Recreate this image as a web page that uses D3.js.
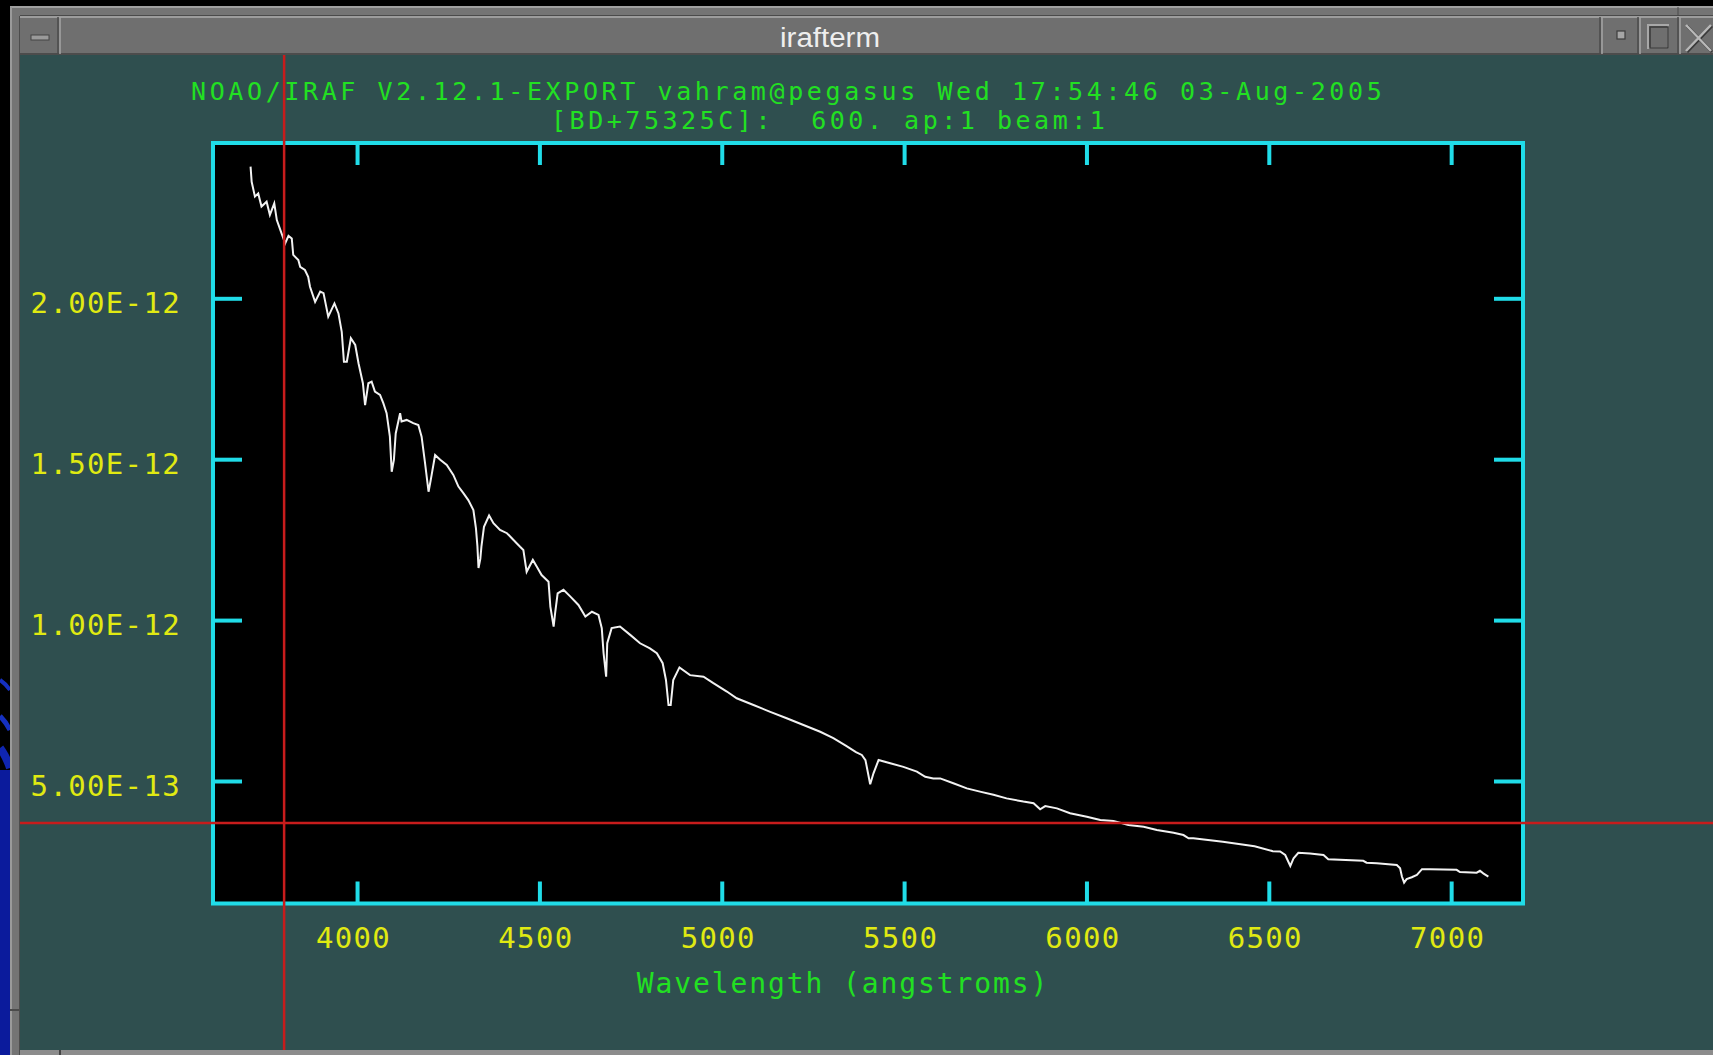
<!DOCTYPE html>
<html>
<head>
<meta charset="utf-8">
<script src="https://cdn.jsdelivr.net/npm/d3@7"></script>
<style>
  html, body { margin: 0; padding: 0; background: #000; overflow: hidden; }
  text { white-space: pre; }
</style>
</head>
<body>
<svg id="screen" width="1713" height="1055"></svg>
<script>
// Extracted spectrum of BD+75 325, aperture 1 (flux in units of 1E-12)
const wavelength = [
  3708, 3711, 3720, 3729, 3738, 3752, 3761, 3773, 3780, 3793, 3803, 3812, 3821, 3825,
  3839, 3844, 3857, 3866, 3871, 3885, 3899, 3908, 3921, 3938, 3949, 3958, 3964, 3972,
  3983, 3995, 4004, 4016, 4022, 4031, 4040, 4049, 4063, 4072, 4081, 4090, 4095, 4101,
  4106, 4118, 4122, 4136, 4154, 4168, 4177, 4186, 4196, 4202, 4214, 4228, 4246, 4264,
  4278, 4292, 4305, 4319, 4326, 4330, 4333, 4338, 4341, 4348, 4362, 4374, 4392, 4411,
  4429, 4447, 4456, 4465, 4482, 4493, 4506, 4525, 4530, 4539, 4543, 4550, 4566, 4585,
  4607, 4626, 4644, 4662, 4671, 4676, 4683, 4686, 4698, 4721, 4749, 4776, 4803, 4822,
  4838, 4847, 4854, 4860, 4867, 4884, 4913, 4950, 4977, 5014, 5041, 5087, 5133, 5178,
  5224, 5270, 5306, 5340, 5368, 5384, 5394, 5407, 5416, 5430, 5462, 5498, 5535, 5558,
  5580, 5599, 5635, 5672, 5708, 5745, 5781, 5827, 5855, 5873, 5887, 5919, 5955, 6001,
  6038, 6074, 6115, 6157, 6193, 6239, 6266, 6280, 6293, 6374, 6461, 6511, 6531, 6545,
  6559, 6568, 6581, 6613, 6650, 6663, 6759, 6768, 6796, 6851, 6860, 6865, 6871, 6878,
  6892, 6906, 6920, 6942, 7015, 7024, 7070, 7079, 7088, 7102
];
const flux = [
  2.409, 2.362, 2.316, 2.326, 2.285, 2.300, 2.259, 2.295, 2.243, 2.202, 2.171, 2.194, 2.186, 2.135,
  2.119, 2.098, 2.088, 2.067, 2.036, 1.989, 2.021, 2.016, 1.943, 1.984, 1.953, 1.896, 1.803, 1.803,
  1.876, 1.855, 1.798, 1.736, 1.668, 1.736, 1.741, 1.710, 1.700, 1.674, 1.643, 1.570, 1.461, 1.498,
  1.580, 1.643, 1.617, 1.622, 1.612, 1.606, 1.570, 1.492, 1.399, 1.435, 1.513, 1.498, 1.482, 1.451,
  1.415, 1.394, 1.373, 1.342, 1.285, 1.230, 1.162, 1.190, 1.228, 1.290, 1.325, 1.301, 1.280, 1.270,
  1.249, 1.228, 1.218, 1.150, 1.187, 1.166, 1.140, 1.119, 1.042, 0.980, 1.021, 1.083, 1.094, 1.073,
  1.047, 1.011, 1.026, 1.016, 0.975, 0.897, 0.824, 0.928, 0.975, 0.980, 0.954, 0.928, 0.912, 0.897,
  0.866, 0.814, 0.736, 0.736, 0.814, 0.853, 0.829, 0.824, 0.804, 0.778, 0.757, 0.736, 0.715, 0.695,
  0.674, 0.653, 0.633, 0.610, 0.590, 0.581, 0.565, 0.490, 0.524, 0.565, 0.555, 0.544, 0.529, 0.513,
  0.508, 0.508, 0.493, 0.477, 0.467, 0.457, 0.446, 0.436, 0.431, 0.412, 0.422, 0.415, 0.400, 0.389,
  0.379, 0.376, 0.363, 0.358, 0.348, 0.339, 0.332, 0.322, 0.322, 0.311, 0.297, 0.282, 0.281, 0.270,
  0.236, 0.260, 0.277, 0.275, 0.270, 0.257, 0.252, 0.246, 0.244, 0.239, 0.229, 0.203, 0.184, 0.195,
  0.201, 0.208, 0.226, 0.226, 0.224, 0.217, 0.215, 0.221, 0.213, 0.203
];
const xTicks = [4000, 4500, 5000, 5500, 6000, 6500, 7000];
const yTicks = [0.5, 1.0, 1.5, 2.0];
const yTickLabels = ["5.00E-13", "1.00E-12", "1.50E-12", "2.00E-12"];
const xDomain = [3605, 7197];
const yDomain = [0.1193, 2.4826];
const cursorPos = [3800, 0.3695];          // graphics cursor (wavelength, flux)
const headerLines = [
  "NOAO/IRAF V2.12.1-EXPORT vahram@pegasus Wed 17:54:46 03-Aug-2005",
  "[BD+75325C]:  600. ap:1 beam:1"
];
const xTitle = "Wavelength (angstroms)";
const windowTitle = "irafterm";

// ---- layout & palette ----
const W = 1713, H = 1055;
const plot = { left: 213, right: 1523, top: 143, bottom: 903.5 };
const C = {
  teal: "#2f4f4f", cyan: "#20dce8", yellow: "#e0ea12", green: "#22e022",
  red: "#c81c1c", trace: "#f2f2f2", frame: "#6f6f6f"
};
const mono = "'DejaVu Sans Mono', 'Liberation Mono', monospace";
// letter-spacing that gives a fixed character advance for the graphics font
const spacingFor = (fs, adv) => (adv - 0.602 * fs).toFixed(2) + "px";

const svg = d3.select("#screen");

// ---- desktop strip and window frame ----
svg.append("rect").attr("width", W).attr("height", H).attr("fill", "#000");
svg.append("rect").attr("x", 0).attr("y", 770).attr("width", 10).attr("height", H - 770).attr("fill", "#0b1b9c");
svg.append("path").attr("d", "M0,680 Q6,684 10,690").attr("stroke", "#1530c0").attr("stroke-width", 4).attr("fill", "none");
svg.append("path").attr("d", "M0,716 Q6,722 10,730").attr("stroke", "#1530c0").attr("stroke-width", 5).attr("fill", "none");
svg.append("path").attr("d", "M0,748 Q6,756 10,768").attr("stroke", "#0f25b0").attr("stroke-width", 8).attr("fill", "none");

svg.append("rect").attr("x", 10).attr("y", 6).attr("width", W - 10).attr("height", H - 6).attr("fill", "#747474");
svg.append("line").attr("x1", 10).attr("x2", W).attr("y1", 7).attr("y2", 7).attr("stroke", "#a0a0a0").attr("stroke-width", 2);
svg.append("line").attr("x1", 11).attr("x2", 11).attr("y1", 7).attr("y2", H).attr("stroke", "#9a9a9a").attr("stroke-width", 2);
svg.append("line").attr("x1", 20).attr("x2", W).attr("y1", 15.5).attr("y2", 15.5).attr("stroke", "#4a4a4a").attr("stroke-width", 1);
svg.append("line").attr("x1", 1678).attr("x2", 1678).attr("y1", 7).attr("y2", 16).attr("stroke", "#4a4a4a").attr("stroke-width", 1);
svg.append("line").attr("x1", 10).attr("x2", 20).attr("y1", 1010).attr("y2", 1010).attr("stroke", "#4a4a4a").attr("stroke-width", 2);

// title bar
const tb = svg.append("g");
tb.append("rect").attr("x", 19).attr("y", 16).attr("width", W - 19).attr("height", 39).attr("fill", C.frame);
tb.append("line").attr("x1", 19).attr("x2", W).attr("y1", 17).attr("y2", 17).attr("stroke", "#9c9c9c").attr("stroke-width", 2);
tb.append("line").attr("x1", 19).attr("x2", W).attr("y1", 54).attr("y2", 54).attr("stroke", "#4c4c4c").attr("stroke-width", 2);
tb.append("line").attr("x1", 19.5).attr("x2", 19.5).attr("y1", 16).attr("y2", H).attr("stroke", "#4c4c4c").attr("stroke-width", 1);
[58, 1600, 1638, 1678].forEach(x => {
  tb.append("line").attr("x1", x).attr("x2", x).attr("y1", 17).attr("y2", 54).attr("stroke", "#4a4a4a").attr("stroke-width", 1.5);
  tb.append("line").attr("x1", x + 2).attr("x2", x + 2).attr("y1", 17).attr("y2", 54).attr("stroke", "#a4a4a4").attr("stroke-width", 1.5);
});
// window menu, iconify, maximize, close glyphs
tb.append("rect").attr("x", 31).attr("y", 35).attr("width", 18).attr("height", 5).attr("fill", "#9a9a9a").attr("stroke", "#444").attr("stroke-width", 1);
tb.append("rect").attr("x", 1617).attr("y", 31).attr("width", 8).attr("height", 8).attr("fill", "#a6a6a6").attr("stroke", "#3c3c3c").attr("stroke-width", 1.2);
tb.append("rect").attr("x", 1648).attr("y", 25).attr("width", 20).attr("height", 23).attr("fill", "none").attr("stroke", "#a8a8a8").attr("stroke-width", 2);
tb.append("rect").attr("x", 1650).attr("y", 27).attr("width", 18).attr("height", 21).attr("fill", "none").attr("stroke", "#3a3a3a").attr("stroke-width", 1.5);
tb.append("path").attr("d", "M1686,25 L1711,51 M1711,25 L1686,51").attr("stroke", "#3a3a3a").attr("stroke-width", 3).attr("transform", "translate(1,1)");
tb.append("path").attr("d", "M1686,25 L1711,51 M1711,25 L1686,51").attr("stroke", "#b8b8b8").attr("stroke-width", 2.5);
tb.append("text").attr("x", 830).attr("y", 47).attr("text-anchor", "middle")
  .attr("font-family", "'Liberation Sans', Arial, sans-serif").attr("font-size", 27)
  .attr("textLength", 100).attr("lengthAdjust", "spacingAndGlyphs")
  .attr("fill", "#eeeeee").text(windowTitle);

// graphics terminal area
svg.append("rect").attr("x", 20).attr("y", 55).attr("width", W - 20).attr("height", H - 5 - 55).attr("fill", C.teal);
svg.append("rect").attr("x", 20).attr("y", H - 5).attr("width", W - 20).attr("height", 5).attr("fill", "#8c8c8c");
svg.append("line").attr("x1", 60).attr("x2", 60).attr("y1", H - 5).attr("y2", H).attr("stroke", "#444").attr("stroke-width", 2);

// ---- plot ----
const x = d3.scaleLinear().domain(xDomain).range([plot.left, plot.right]);
const y = d3.scaleLinear().domain(yDomain).range([plot.bottom, plot.top]);

svg.append("rect").attr("x", plot.left).attr("y", plot.top)
  .attr("width", plot.right - plot.left).attr("height", plot.bottom - plot.top).attr("fill", "#000");

const pts = wavelength.map((w, i) => [w, flux[i]]);
svg.append("path").datum(pts)
  .attr("d", d3.line().x(d => x(d[0])).y(d => y(d[1])))
  .attr("fill", "none").attr("stroke", C.trace).attr("stroke-width", 2)
  .attr("stroke-linejoin", "miter");

function styleAxis(g, fs) {
  g.select(".domain").remove();
  g.selectAll(".tick line").attr("stroke", C.cyan).attr("stroke-width", 4);
  g.selectAll(".tick text").attr("fill", C.yellow)
    .attr("font-family", mono).attr("font-size", fs).style("letter-spacing", spacingFor(fs, 18.8));
}

const fsTick = 29;
svg.append("g").attr("transform", `translate(0,${plot.bottom})`)
  .call(d3.axisBottom(x).tickValues(xTicks).tickFormat(d3.format("d")).tickSize(-22).tickPadding(24))
  .call(g => styleAxis(g, fsTick))
  .call(g => g.selectAll(".tick text").attr("dx", -4));
svg.append("g").attr("transform", `translate(0,${plot.top})`)
  .call(d3.axisTop(x).tickValues(xTicks).tickFormat("").tickSize(-22))
  .call(g => styleAxis(g, fsTick));
svg.append("g").attr("transform", `translate(${plot.left},0)`)
  .call(d3.axisLeft(y).tickValues(yTicks).tickFormat((d, i) => yTickLabels[i]).tickSize(-29).tickPadding(32))
  .call(g => styleAxis(g, fsTick))
  .call(g => g.selectAll(".tick text").attr("dy", "0.5em"));
svg.append("g").attr("transform", `translate(${plot.right},0)`)
  .call(d3.axisRight(y).tickValues(yTicks).tickFormat("").tickSize(-29))
  .call(g => styleAxis(g, fsTick));

svg.append("rect").attr("x", plot.left).attr("y", plot.top)
  .attr("width", plot.right - plot.left).attr("height", plot.bottom - plot.top)
  .attr("fill", "none").attr("stroke", C.cyan).attr("stroke-width", 4);

// axis title and header
svg.append("text").attr("x", 843).attr("y", 993).attr("text-anchor", "middle")
  .attr("font-family", mono).attr("font-size", 28).style("letter-spacing", spacingFor(28, 18.75))
  .attr("fill", C.green).text(xTitle);

const header = [
  { x: 191, y: 99.5, adv: 18.66 },
  { x: 551, y: 129, adv: 18.58 }
];
headerLines.forEach((t, i) => {
  svg.append("text").attr("x", header[i].x).attr("y", header[i].y)
    .attr("font-family", mono).attr("font-size", 25).style("letter-spacing", spacingFor(25, header[i].adv))
    .attr("fill", C.green).text(t);
});

// graphics cursor crosshair
svg.append("line").attr("x1", x(cursorPos[0])).attr("x2", x(cursorPos[0]))
  .attr("y1", 55).attr("y2", H - 5).attr("stroke", C.red).attr("stroke-width", 2.5);
svg.append("line").attr("x1", 20).attr("x2", W)
  .attr("y1", y(cursorPos[1])).attr("y2", y(cursorPos[1])).attr("stroke", C.red).attr("stroke-width", 2.5);
</script>
</body>
</html>
